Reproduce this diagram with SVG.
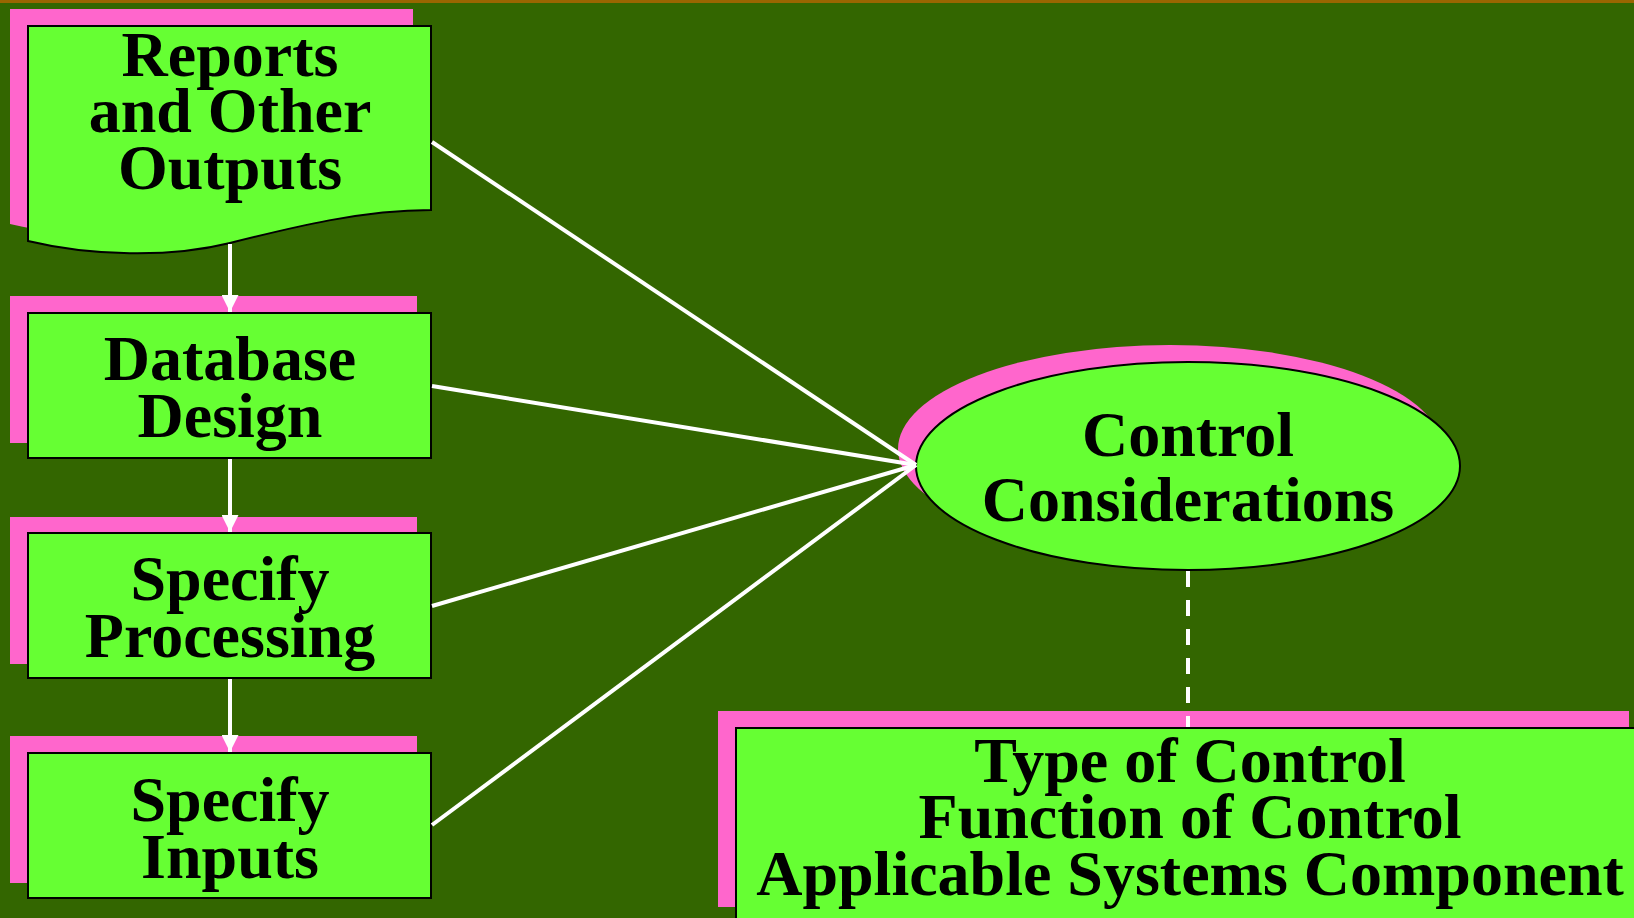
<svg xmlns="http://www.w3.org/2000/svg" width="1634" height="918" viewBox="0 0 1634 918">
  <style>
    .shadow { fill: #FF66CC; }
    .node { fill: #66FF33; stroke: #000000; stroke-width: 2; }
    .label { font-family: "Liberation Serif", "Times New Roman", serif; font-weight: bold; font-size: 64px; fill: #000000; text-anchor: middle; }
    .link { stroke: #FFFFFF; stroke-width: 4; fill: none; }
    .dashed { stroke-dasharray: 16 13; }
  </style>
  <defs>
    <marker id="arrow" markerUnits="userSpaceOnUse" markerWidth="18" markerHeight="17" refX="17" refY="8.5" orient="auto">
      <path d="M0,0 L17,8.5 L0,17 Z" fill="#FFFFFF"/>
    </marker>
    <path id="docShape" d="M28,26 H431 V210 C360,210 290,228 230,243 C170,258 90,256 28,241 Z"/>
  </defs>

  <!-- background and top rule -->
  <rect x="0" y="0" width="1634" height="918" fill="#336600"/>
  <rect x="0" y="0" width="1634" height="3" fill="#996600"/>

  <!-- Reports and Other Outputs (document shape) -->
  <g id="reports">
    <use href="#docShape" class="shadow" transform="translate(-18,-17)"/>
    <use href="#docShape" class="node"/>
    <text class="label" x="230" y="76">Reports</text>
    <text class="label" x="230" y="132">and Other</text>
    <text class="label" x="230" y="189">Outputs</text>
  </g>

  <!-- Database Design -->
  <g id="database">
    <rect class="shadow" x="10" y="296" width="407" height="147"/>
    <rect class="node" x="28" y="313" width="403" height="145"/>
    <text class="label" x="230" y="380">Database</text>
    <text class="label" x="230" y="437">Design</text>
  </g>

  <!-- Specify Processing -->
  <g id="processing">
    <rect class="shadow" x="10" y="517" width="407" height="147"/>
    <rect class="node" x="28" y="533" width="403" height="145"/>
    <text class="label" x="230" y="600">Specify</text>
    <text class="label" x="230" y="657">Processing</text>
  </g>

  <!-- Specify Inputs -->
  <g id="inputs">
    <rect class="shadow" x="10" y="736" width="407" height="147"/>
    <rect class="node" x="28" y="753" width="403" height="145"/>
    <text class="label" x="230" y="821">Specify</text>
    <text class="label" x="230" y="878">Inputs</text>
  </g>

  <!-- Control Considerations -->
  <g id="control">
    <ellipse class="shadow" cx="1170" cy="449" rx="272" ry="104"/>
    <ellipse class="node" cx="1188" cy="466" rx="272" ry="104"/>
    <text class="label" x="1188" y="456">Control</text>
    <text class="label" x="1188" y="521">Considerations</text>
  </g>

  <!-- Type / Function / Component -->
  <g id="control-types">
    <rect class="shadow" x="718" y="711" width="911" height="196"/>
    <rect class="node" x="736" y="728" width="920" height="210"/>
    <text class="label" x="1190" y="782">Type of Control</text>
    <text class="label" x="1190" y="838">Function of Control</text>
    <text class="label" x="1190" y="895">Applicable Systems Component</text>
  </g>

  <!-- connectors, drawn over the shadows so arrowheads stay visible -->
  <g id="connectors">
    <line class="link" x1="230" y1="244" x2="230" y2="312" marker-end="url(#arrow)"/>
    <line class="link" x1="230" y1="459" x2="230" y2="532" marker-end="url(#arrow)"/>
    <line class="link" x1="230" y1="679" x2="230" y2="752" marker-end="url(#arrow)"/>
    <line class="link" x1="432" y1="142" x2="916" y2="465"/>
    <line class="link" x1="432" y1="386" x2="916" y2="465"/>
    <line class="link" x1="432" y1="606" x2="916" y2="465"/>
    <line class="link" x1="432" y1="825" x2="916" y2="465"/>
    <line class="link dashed" x1="1188" y1="571" x2="1188" y2="727"/>
  </g>
</svg>
